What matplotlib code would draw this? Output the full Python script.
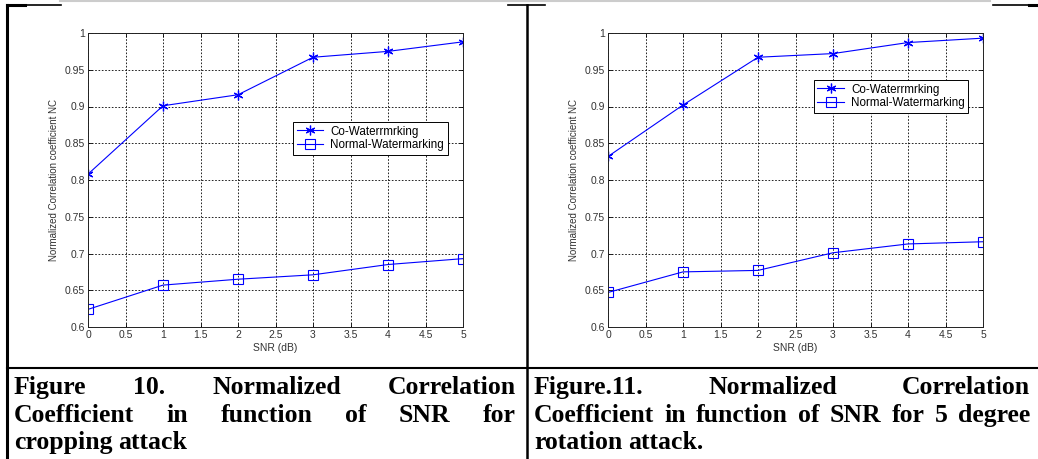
import numpy as np
import matplotlib
matplotlib.use("Agg")
import matplotlib.pyplot as plt

# datos
snr = [0, 1, 2, 3, 4, 5]

crop_co = [0.808, 0.901, 0.916, 0.967, 0.975, 0.988]
crop_normal = [0.624, 0.657, 0.665, 0.671, 0.685, 0.693]

rot_co = [0.832, 0.902, 0.967, 0.972, 0.987, 0.993]
rot_normal = [0.647, 0.675, 0.677, 0.701, 0.713, 0.716]

xticks = [0, 0.5, 1, 1.5, 2, 2.5, 3, 3.5, 4, 4.5, 5]
xtick_labels = ['0', '0.5', '1', '1.5', '2', '2.5', '3', '3.5', '4', '4.5', '5']
yticks = [0.6, 0.65, 0.7, 0.75, 0.8, 0.85, 0.9, 0.95, 1.0]
ytick_labels = ['0.6', '0.65', '0.7', '0.75', '0.8', '0.85', '0.9', '0.95', '1']

legend_labels = ['Co-Waterrmrking', 'Normal-Watermarking']

caption_left = ["Figure 10. Normalized Correlation",
                "Coefficient in function of SNR for",
                "cropping attack"]
caption_right = ["Figure.11. Normalized Correlation",
                 "Coefficient in function of SNR for 5 degree",
                 "rotation attack."]

W, H = 1038, 459
plt.rcParams['font.family'] = ['Liberation Sans', 'DejaVu Sans']
fig = plt.figure(figsize=(W / 100, H / 100), dpi=100)

# fondo en pixeles para la tabla y los textos
bg = fig.add_axes([0, 0, 1, 1], zorder=0)
bg.set_xlim(0, W)
bg.set_ylim(H, 0)
bg.axis('off')

# bordes de la tabla del documento
bg.plot([60, 990], [1, 1], color='#cccccc', lw=1.5)
bg.plot([7, 7], [5, H], color='k', lw=2.2)
bg.plot([7, 61], [5, 5], color='k', lw=1.2)
bg.plot([7, 25], [5, 5], color='k', lw=2.2)
bg.plot([527, 527], [5, H], color='k', lw=1.8)
bg.plot([508, 545], [5, 5], color='k', lw=1.2)
bg.plot([993, 1038], [5, 5], color='k', lw=1.2)
bg.plot([1029, 1038], [5, 5], color='k', lw=2.2)
bg.plot([7, 1038], [367.5, 367.5], color='k', lw=1.5)


def make_plot(left_px, co, normal, leg_anchor):
    ax = fig.add_axes([left_px / W, 1 - 327 / H, 375 / W, 294 / H], zorder=2)
    ax.plot(snr, co, color='blue', lw=0.8, marker=(6, 2, 0), ms=7, mew=0.9,
            label=legend_labels[0])
    ax.plot(snr, normal, color='blue', lw=0.8, marker='s', ms=6.5, mfc='none',
            mew=0.8, label=legend_labels[1])
    ax.set_xlim(0, 5)
    ax.set_ylim(0.6, 1.0)
    ax.set_xticks(xticks)
    ax.set_xticklabels(xtick_labels)
    ax.set_yticks(yticks)
    ax.set_yticklabels(ytick_labels)
    ax.tick_params(direction='in', length=3, width=0.6, labelsize=7.5,
                   top=True, right=True, pad=2, colors='k',
                   labelcolor='#333333')
    ax.grid(True, color='k', linestyle=(0, (2, 2)), linewidth=0.6)
    for s in ax.spines.values():
        s.set_linewidth(0.7)
        s.set_color('#222222')
    ax.set_xlabel('SNR (dB)', fontsize=7.5, color='#333333', labelpad=2)
    ax.set_ylabel('Normalized Correlation coefficient NC', fontsize=7,
                  color='#333333', labelpad=4)
    leg = ax.legend(loc='upper left', bbox_to_anchor=leg_anchor, fontsize=8.4,
                    fancybox=False, framealpha=1, edgecolor='k',
                    borderpad=0.3, labelspacing=0.15, handlelength=2.3,
                    handletextpad=0.6, borderaxespad=0)
    leg.get_frame().set_linewidth(0.7)
    return ax


make_plot(88, crop_co, crop_normal, (0.547, 0.697))
make_plot(608, rot_co, rot_normal, (0.549, 0.84))

# pies de figura justificados
fig.canvas.draw()
renderer = fig.canvas.get_renderer()
cap_font = dict(family='Liberation Serif', fontweight='bold', fontsize=18.5)
baselines = [394, 422, 449]


def justify(lines, x0, x1):
    for i, line in enumerate(lines):
        words = line.split(' ')
        texts = [bg.text(0, baselines[i], w, va='baseline', ha='left',
                         **cap_font) for w in words]
        widths = [t.get_window_extent(renderer).width for t in texts]
        if i == len(lines) - 1:
            sp = 6
        else:
            sp = (x1 - x0 - sum(widths)) / (len(words) - 1)
        x = x0
        for t, w in zip(texts, widths):
            t.set_x(x)
            x += w + sp


justify(caption_left, 14, 516)
justify(caption_right, 534, 1030)

fig.savefig('out.png', dpi=100)
